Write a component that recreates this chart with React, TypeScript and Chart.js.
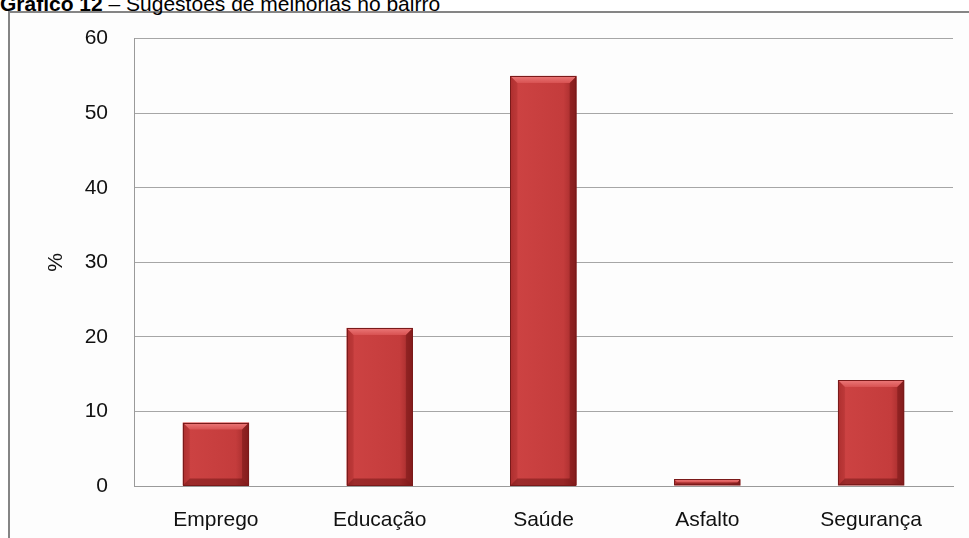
import React, { useEffect, useRef } from "react";
import { Chart, registerables } from "chart.js";

Chart.register(...registerables);

const categories = ["Emprego", "Educação", "Saúde", "Asfalto", "Segurança"];
const values = [8.5, 21.2, 55, 0.9, 14.2];
const yMin = 0;
const yMax = 60;
const yStep = 10;
const yTitle = "%";
const titleBold = "Gráfico 12";
const titleRest = " – Sugestões de melhorias no bairro";

const FONT = "'Liberation Sans', Arial, sans-serif";

const bevelPlugin = {
  id: "bevelBars",
  afterDatasetsDraw(chart: any) {
    const ctx = chart.ctx;
    const meta = chart.getDatasetMeta(0);
    meta.data.forEach((el: any) => {
      const p = el.getProps(["x", "y", "base", "width"], true);
      const left = p.x - p.width / 2;
      const right = p.x + p.width / 2;
      const top = Math.min(p.y, p.base);
      const bottom = Math.max(p.y, p.base);
      const h = bottom - top;
      const b = Math.min(7, h / 2);
      ctx.save();
      const g = ctx.createLinearGradient(left, 0, right, 0);
      g.addColorStop(0, "#b83434");
      g.addColorStop(0.12, "#cc4242");
      g.addColorStop(0.8, "#c43c3c");
      g.addColorStop(1, "#9a2626");
      ctx.fillStyle = g;
      ctx.fillRect(left, top, p.width, h);
      const gt = ctx.createLinearGradient(0, top, 0, top + b);
      gt.addColorStop(0, "#ec7a7a");
      gt.addColorStop(1, "#d85252");
      ctx.fillStyle = gt;
      ctx.beginPath();
      ctx.moveTo(left, top);
      ctx.lineTo(right, top);
      ctx.lineTo(right - b, top + b);
      ctx.lineTo(left + b, top + b);
      ctx.closePath();
      ctx.fill();
      ctx.fillStyle = "rgba(70,0,0,0.28)";
      ctx.beginPath();
      ctx.moveTo(right, top);
      ctx.lineTo(right, bottom);
      ctx.lineTo(right - b, bottom - b);
      ctx.lineTo(right - b, top + b);
      ctx.closePath();
      ctx.fill();
      ctx.fillStyle = "rgba(90,0,0,0.10)";
      ctx.beginPath();
      ctx.moveTo(left, top);
      ctx.lineTo(left + b, top + b);
      ctx.lineTo(left + b, bottom - b);
      ctx.lineTo(left, bottom);
      ctx.closePath();
      ctx.fill();
      ctx.fillStyle = "rgba(70,0,0,0.35)";
      ctx.beginPath();
      ctx.moveTo(left, bottom);
      ctx.lineTo(right, bottom);
      ctx.lineTo(right - b, bottom - b);
      ctx.lineTo(left + b, bottom - b);
      ctx.closePath();
      ctx.fill();
      ctx.strokeStyle = "#7a1a1a";
      ctx.lineWidth = 1;
      ctx.strokeRect(Math.round(left) + 0.5, Math.round(top) + 0.5, Math.round(p.width) - 1, Math.round(h) - 1);
      ctx.restore();
    });
  },
};

export default function App() {
  const ref = useRef<HTMLCanvasElement | null>(null);

  useEffect(() => {
    if (!ref.current) return;
    const chart = new Chart(ref.current, {
      type: "bar",
      data: {
        labels: categories,
        datasets: [
          {
            data: values,
            backgroundColor: "rgba(0,0,0,0)",
            borderWidth: 0,
            barPercentage: 1,
            categoryPercentage: 0.405,
          },
        ],
      },
      options: {
        responsive: false,
        animation: false,
        events: [],
        layout: { padding: { left: 0, right: 16, top: 37, bottom: 0 } },
        plugins: {
          legend: { display: false },
          tooltip: { enabled: false },
          title: { display: false },
        },
        scales: {
          x: {
            grid: { display: false, drawTicks: false },
            border: { display: true, color: "#9a9a9a", width: 1 },
            ticks: {
              padding: 22,
              color: "#111",
              font: { family: FONT, size: 21 },
              maxRotation: 0,
              autoSkip: false,
            },
            afterFit: (scale: any) => {
              scale.height = 52;
            },
          },
          y: {
            min: yMin,
            max: yMax,
            grid: { color: "#a6a6a6", lineWidth: 1, drawTicks: false },
            border: { display: true, color: "#9a9a9a", width: 1 },
            ticks: {
              stepSize: yStep,
              padding: 26,
              color: "#111",
              font: { family: FONT, size: 21 },
            },
            title: {
              display: true,
              text: yTitle,
              color: "#111",
              font: { family: FONT, size: 21 },
              padding: { top: 44, bottom: 0 },
            },
            afterFit: (scale: any) => {
              scale.width = 134;
            },
          },
        },
      },
      plugins: [bevelPlugin],
    });
    return () => chart.destroy();
  }, []);

  return (
    <div
      style={{
        position: "fixed",
        left: 0,
        top: 0,
        width: 969,
        height: 538,
        overflow: "hidden",
        background: "#ffffff",
      }}
    >
      <div
        style={{
          position: "absolute",
          left: 8,
          top: 11,
          width: 1000,
          height: 600,
          border: "2px solid #858585",
          background: "#fdfdfd",
          boxSizing: "border-box",
        }}
      />
      <div
        style={{
          position: "absolute",
          left: 0,
          top: -6,
          fontFamily: FONT,
          fontSize: 21,
          lineHeight: "20px",
          color: "#000",
          whiteSpace: "nowrap",
        }}
      >
        <span style={{ fontWeight: "bold" }}>{titleBold}</span>
        <span>{titleRest}</span>
      </div>
      <canvas
        ref={ref}
        width={969}
        height={538}
        style={{ position: "absolute", left: 0, top: 0, width: 969, height: 538 }}
      />
    </div>
  );
}
